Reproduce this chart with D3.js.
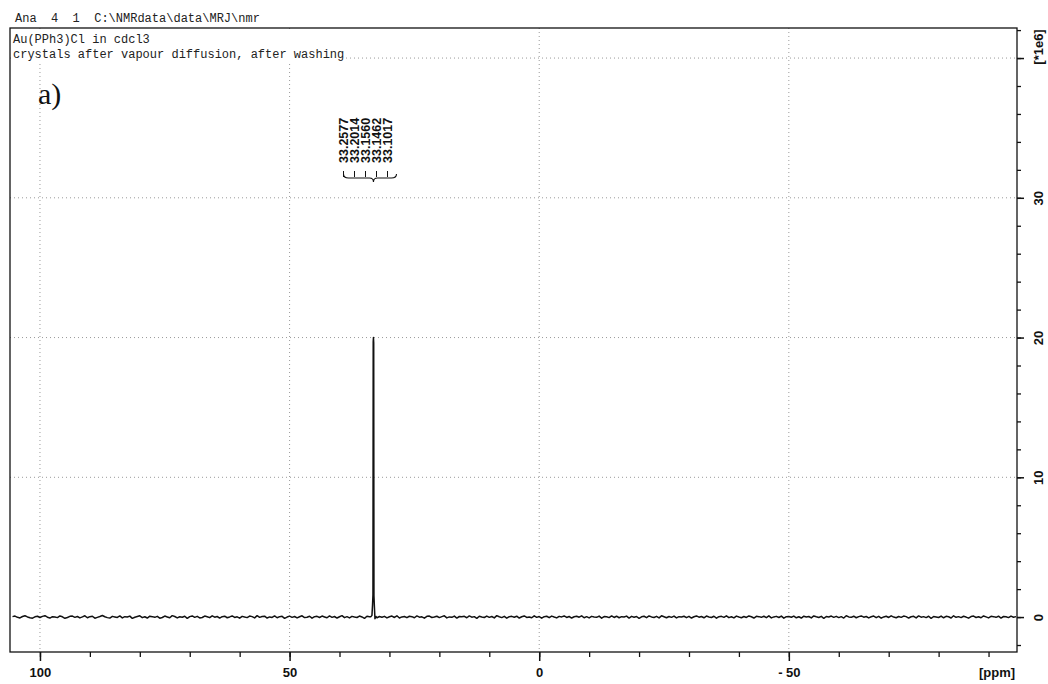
<!DOCTYPE html>
<html>
<head>
<meta charset="utf-8">
<script src="https://cdn.jsdelivr.net/npm/d3@7"></script>
<style>
  html, body { margin: 0; padding: 0; background: #fff; }
  svg { display: block; }
</style>
</head>
<body>
<svg id="chart" width="1048" height="684"></svg>
<script>
// 31P NMR spectrum of Au(PPh3)Cl, intensities in units of 1e6

// Header lines
const headerLine = "Ana  4  1  C:\\NMRdata\\data\\MRJ\\nmr";
const titleLines = ["Au(PPh3)Cl in cdcl3", "crystals after vapour diffusion, after washing"];
const panelTag = "a)";

// Axis ticks
const xMajorTicks = [100, 50, 0, -50];
const xMajorLabels = ["100", "50", "0", "- 50"];
const xMinorTicks = [100, 90, 80, 70, 60, 50, 40, 30, 20, 10, 0, -10, -20, -30, -40, -50, -60, -70, -80, -90];
const xUnitLabel = "[ppm]";
const yMajorTicks = [0, 10, 20, 30, 40];
const yMajorLabels = ["0", "10", "20", "30", ""];
const yMinorTicks = [-2, 0, 2, 4, 6, 8, 10, 12, 14, 16, 18, 20, 22, 24, 26, 28, 30, 32, 34, 36, 38, 40, 42];
const yUnitLabel = "[*1e6]";
const xGrid = [100, 50, 0, -50];
const yGrid = [10, 20, 30, 40];

// Baseline samples every 0.5 ppm from 105.5 down to -95.5
const baseStart = 105.5;
const baseStep = -0.5;
const baseIntensity = [
  0.03, 0.07, -0.02, -0.06, 0.04, 0.09, 0.01, -0.05, -0.08, 0.02,
  0.06, -0.03, 0.05, 0.10, -0.01, -0.07, 0.03, 0.00, -0.04, 0.08,
  0.02, -0.09, -0.03, 0.05, 0.07, -0.02, 0.04, -0.06, 0.01, 0.09,
  -0.05, 0.03, 0.06, -0.08, -0.02, 0.04, 0.11, 0.02, -0.04, -0.07,
  0.05, 0.01, -0.03, 0.08, -0.06, 0.03, 0.00, 0.07, -0.09, -0.01,
  0.04, 0.09, -0.04, 0.02, -0.07, 0.06, 0.03, -0.02, 0.05, -0.08,
  -0.03, 0.07, 0.01, -0.05, 0.10, 0.04, -0.06, 0.02, -0.01, 0.06,
  -0.09, 0.03, 0.08, -0.02, 0.05, -0.06, -0.03, 0.07, 0.02, -0.04,
  0.09, -0.01, 0.04, -0.07, 0.03, 0.06, -0.05, 0.01, 0.08, -0.03,
  0.02, -0.08, 0.05, 0.00, -0.04, 0.07, 0.03, -0.06, 0.10, -0.02,
  0.04, 0.06, -0.07, 0.01, -0.03, 0.08, -0.05, 0.03, 0.05, -0.09,
  0.00, 0.07, -0.02, 0.04, -0.06, 0.02, 0.09, -0.04, -0.01, 0.06,
  -0.08, 0.03, 0.05, -0.03, 0.07, 0.01, -0.05, 0.08, -0.02, 0.04,
  -0.07, 0.02, 0.10, -0.04, 0.03, -0.06, 0.05, 0.00, -0.03, 0.07,
  0.01, -0.09, 0.06, 0.03, -0.02, 0.08, -0.05, 0.04, -0.01, 0.05,
  -0.06, 0.02, 0.07, -0.03, 0.09, -0.07, 0.01, 0.04, -0.04, 0.06,
  0.03, -0.05, 0.08, -0.01, 0.02, -0.08, 0.05, 0.07, -0.03, 0.00,
  0.06, -0.04, 0.03, 0.09, -0.06, 0.01, -0.02, 0.07, -0.07, 0.04,
  0.02, 0.05, -0.05, 0.08, -0.01, 0.03, -0.09, 0.06, 0.01, -0.03,
  0.07, -0.02, 0.04, -0.06, 0.10, 0.02, -0.04, 0.05, -0.08, 0.03,
  0.05, -0.01, 0.06, -0.07, 0.02, 0.08, -0.03, 0.01, -0.05, 0.09,
  -0.02, 0.04, -0.08, 0.03, 0.06, -0.04, 0.07, 0.00, -0.06, 0.05,
  0.01, 0.08, -0.03, 0.04, -0.07, 0.02, 0.06, -0.01, 0.09, -0.05,
  0.03, -0.06, 0.05, 0.01, -0.02, 0.07, -0.08, 0.04, 0.02, -0.04,
  0.08, -0.03, 0.06, -0.05, 0.03, 0.00, 0.07, -0.07, 0.05, -0.01,
  0.04, -0.09, 0.02, 0.06, -0.04, 0.08, 0.01, -0.03, 0.05, -0.06,
  0.09, 0.02, -0.05, 0.04, -0.02, 0.07, -0.06, 0.03, 0.00, 0.06,
  -0.04, 0.05, -0.07, 0.02, 0.08, -0.01, 0.04, -0.05, 0.07, 0.01,
  -0.03, 0.06, -0.08, 0.03, 0.05, -0.02, 0.09, -0.04, 0.02, -0.06,
  0.07, 0.00, -0.05, 0.04, -0.03, 0.08, 0.02, -0.07, 0.05, 0.03,
  -0.02, 0.06, -0.04, 0.09, -0.06, 0.01, 0.05, -0.03, 0.07, -0.08,
  0.03, 0.04, -0.01, 0.07, -0.05, 0.02, -0.07, 0.06, 0.00, 0.04,
  -0.06, 0.08, 0.02, -0.03, 0.05, -0.09, 0.04, 0.01, 0.07, -0.02,
  0.05, -0.04, 0.03, -0.07, 0.09, 0.01, -0.02, 0.06, -0.05, 0.03,
  0.08, -0.01, 0.04, -0.06, 0.02, 0.07, -0.04, 0.05, -0.08, 0.01,
  0.06, -0.03, 0.09, 0.00, -0.05, 0.04, -0.02, 0.07, 0.03, -0.07,
  0.02, 0.05, -0.06, 0.08, -0.01, 0.03, -0.04, 0.06, -0.09, 0.04,
  0.01, -0.03, 0.07, -0.05, 0.05, 0.02, -0.07, 0.09, -0.02, 0.03,
  -0.04, 0.06, 0.00, -0.08, 0.04, 0.07, -0.03, 0.02, -0.05, 0.08,
  0.01, -0.06, 0.05, 0.03, -0.02, 0.06, -0.07, 0.04, 0.02, -0.04,
  0.07, -0.01, 0.03
];

// Resonance around 33.2 ppm
const peakPpm = [33.7, 33.5, 33.38, 33.3, 33.25, 33.2, 33.15, 33.1, 33.02, 32.9, 32.7];
const peakIntensity = [0.03, 0.12, 0.9, 1.6, 19.7, 20.0, 19.6, 1.5, 0.8, -0.12, 0.04];

// Peak annotation
const peakLabels = ["33.2577", "33.2014", "33.1560", "33.1462", "33.1017"];
const peakCenter = 33.2;

const svg = d3.select("#chart");
const frame = { left: 10, right: 1017, top: 28, bottom: 652 };

const x = d3.scaleLinear().domain([106.0, -95.7]).range([frame.left, frame.right]);
const y = d3.scaleLinear().domain([-2.5, 42.15]).range([frame.bottom, frame.top]);

const dark = "#111";
const gridColor = "#9a9a9a";

// Grid
const grid = svg.append("g");
grid.selectAll("line.vg").data(xGrid).join("line")
  .attr("x1", d => x(d)).attr("x2", d => x(d))
  .attr("y1", frame.top).attr("y2", frame.bottom)
  .attr("stroke", gridColor).attr("stroke-width", 1)
  .attr("stroke-dasharray", "1,3");
grid.selectAll("line.hg").data(yGrid).join("line")
  .attr("x1", frame.left).attr("x2", frame.right)
  .attr("y1", d => y(d)).attr("y2", d => y(d))
  .attr("stroke", gridColor).attr("stroke-width", 1)
  .attr("stroke-dasharray", "1,3");

// Spectrum
const baseline = baseIntensity.map((v, i) => ({ ppm: baseStart + i * baseStep, v }));
const peak = peakPpm.map((p, i) => ({ ppm: p, v: peakIntensity[i] }));
const spectrum = baseline
  .filter(d => d.ppm > peakPpm[0] || d.ppm < peakPpm[peakPpm.length - 1])
  .concat(peak)
  .sort((a, b) => b.ppm - a.ppm);

const line = d3.line().x(d => x(d.ppm)).y(d => y(d.v));
svg.append("path")
  .datum(spectrum)
  .attr("d", line)
  .attr("fill", "none")
  .attr("stroke", dark)
  .attr("stroke-width", 1.5)
  .attr("stroke-linejoin", "round");

// Header block: white backing so grid stays clear under the text
const mono = "'Liberation Mono', 'DejaVu Sans Mono', monospace";
svg.append("rect").attr("x", frame.left + 1).attr("y", frame.top + 1)
  .attr("width", 335).attr("height", 32).attr("fill", "#fff");
svg.append("text").attr("x", 15).attr("y", 22)
  .attr("font-family", mono).attr("font-size", 12).attr("fill", "#222")
  .attr("xml:space", "preserve").style("white-space", "pre")
  .text(headerLine);
svg.selectAll("text.title").data(titleLines).join("text")
  .attr("class", "title")
  .attr("x", 13).attr("y", (d, i) => 43 + i * 15)
  .attr("font-family", mono).attr("font-size", 12).attr("fill", "#222")
  .text(d => d);
svg.append("text").attr("x", 38).attr("y", 104)
  .attr("font-family", "'Liberation Serif', 'DejaVu Serif', serif")
  .attr("font-size", 30).attr("fill", dark)
  .text(panelTag);

// Frame
svg.append("rect")
  .attr("x", frame.left).attr("y", frame.top)
  .attr("width", frame.right - frame.left).attr("height", frame.bottom - frame.top)
  .attr("fill", "none").attr("stroke", dark).attr("stroke-width", 1.3);

const sans = "'Liberation Sans', Arial, sans-serif";

// Bottom axis: minor then major ticks
const xMinorAxis = d3.axisBottom(x).tickValues(xMinorTicks).tickSize(5).tickFormat("");
const xMinorG = svg.append("g").attr("transform", `translate(0,${frame.bottom})`).call(xMinorAxis);
xMinorG.select(".domain").remove();
xMinorG.selectAll("line").attr("stroke", dark).attr("stroke-width", 1.3);

const xMajorAxis = d3.axisBottom(x).tickValues(xMajorTicks).tickSize(9)
  .tickFormat((d, i) => xMajorLabels[i]);
const xMajorG = svg.append("g").attr("transform", `translate(0,${frame.bottom})`).call(xMajorAxis);
xMajorG.select(".domain").remove();
xMajorG.selectAll("line").attr("stroke", dark).attr("stroke-width", 1.5);
xMajorG.selectAll("text")
  .attr("y", 25).attr("dy", 0)
  .attr("font-family", sans).attr("font-size", 13).attr("font-weight", "bold")
  .attr("fill", dark)
  .style("white-space", "pre");

svg.append("text").attr("x", 997).attr("y", frame.bottom + 25)
  .attr("text-anchor", "middle")
  .attr("font-family", sans).attr("font-size", 13).attr("font-weight", "bold")
  .attr("fill", dark).text(xUnitLabel);

// Right axis: minor then major ticks, labels rotated
const yMinorAxis = d3.axisRight(y).tickValues(yMinorTicks).tickSize(4).tickFormat("");
const yMinorG = svg.append("g").attr("transform", `translate(${frame.right},0)`).call(yMinorAxis);
yMinorG.select(".domain").remove();
yMinorG.selectAll("line").attr("stroke", dark).attr("stroke-width", 1.3);

const yMajorAxis = d3.axisRight(y).tickValues(yMajorTicks).tickSize(7)
  .tickFormat((d, i) => yMajorLabels[i]);
const yMajorG = svg.append("g").attr("transform", `translate(${frame.right},0)`).call(yMajorAxis);
yMajorG.select(".domain").remove();
yMajorG.selectAll("line").attr("stroke", dark).attr("stroke-width", 1.5);
yMajorG.selectAll("text")
  .attr("x", 0).attr("dy", 0)
  .attr("transform", "translate(21,0) rotate(-90)")
  .attr("text-anchor", "middle").attr("dominant-baseline", "central")
  .attr("font-family", sans).attr("font-size", 13).attr("font-weight", "bold")
  .attr("fill", dark);

svg.append("text")
  .attr("transform", `translate(${frame.right + 21},47) rotate(-90)`)
  .attr("text-anchor", "middle").attr("dominant-baseline", "central")
  .attr("font-family", sans).attr("font-size", 13).attr("font-weight", "bold")
  .attr("fill", dark).text(yUnitLabel);

// Peak annotation: stacked rotated labels with a brace pointing at the resonance
const labelX0 = 343.5, labelGap = 11;
const labelBottom = 163;
const braceY = 176;
const ann = svg.append("g");
ann.selectAll("text").data(peakLabels).join("text")
  .attr("transform", (d, i) => `translate(${labelX0 + i * labelGap},${labelBottom}) rotate(-90)`)
  .attr("dominant-baseline", "central")
  .attr("font-family", sans).attr("font-size", 12.5).attr("font-weight", "bold")
  .attr("fill", dark).text(d => d);
ann.selectAll("line").data(peakLabels).join("line")
  .attr("x1", (d, i) => labelX0 + i * labelGap).attr("x2", (d, i) => labelX0 + i * labelGap)
  .attr("y1", braceY - 5).attr("y2", braceY + 1)
  .attr("stroke", dark).attr("stroke-width", 1);
const bl = labelX0, br = labelX0 + (peakLabels.length - 1) * labelGap + 9, bc = x(peakCenter);
ann.append("path")
  .attr("d", `M${bl},${braceY - 2} Q${bl},${braceY + 2} ${bl + 5},${braceY + 2} L${bc - 4},${braceY + 2} Q${bc},${braceY + 2} ${bc},${braceY + 6} Q${bc},${braceY + 2} ${bc + 4},${braceY + 2} L${br - 5},${braceY + 2} Q${br},${braceY + 2} ${br},${braceY - 2}`)
  .attr("fill", "none").attr("stroke", dark).attr("stroke-width", 1.1);
</script>
</body>
</html>
